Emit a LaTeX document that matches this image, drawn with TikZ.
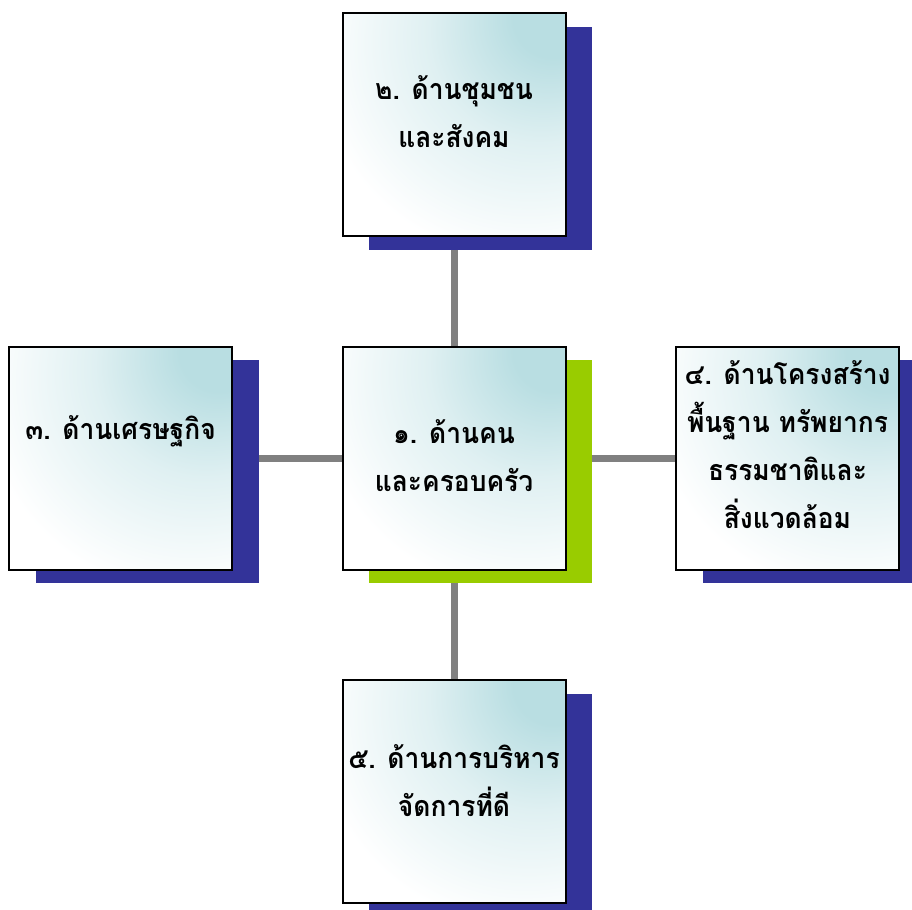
\documentclass[tikz,border=0pt]{standalone}
\usepackage{fontspec}
\newfontfamily\thaifont[Script=Thai,FakeStretch=0.92]{Loma}
\usetikzlibrary{backgrounds}
\definecolor{teal1}{HTML}{B9DEE2}
\definecolor{navyS}{HTML}{333399}
\definecolor{limeS}{HTML}{99CC00}
\pgfdeclareradialshading{boxshade}{\pgfpoint{24bp}{26bp}}{
  color(0bp)=(teal1); color(9bp)=(teal1); color(25bp)=(teal1!45!white); color(46bp)=(white); color(120bp)=(white)}
\tikzset{
  x=0.75pt,y=-0.75pt,
  boxnode/.style={draw=black,line width=1.9pt,minimum width=167pt,minimum height=167pt,inner sep=0pt,shading=boxshade,anchor=center},
  shadownode/.style={fill=#1,draw=none,minimum width=167.5pt,minimum height=167pt,inner sep=0pt,anchor=center},
  link/.style={draw=black!50,line width=4.8pt},
  lbl/.style={font=\thaifont\bfseries\fontsize{21.5pt}{36pt}\selectfont,align=center,text=black,inner sep=0pt,anchor=center}
}
\begin{document}
\begin{tikzpicture}
\useasboundingbox (0,0) rectangle (912,909);
\begin{scope}
\clip (0,0) rectangle (912,909);
\node[shadownode=navyS] (s2) at (480.5,138.5) {};
\node[shadownode=limeS] (s1) at (480.5,471.5) {};
\node[shadownode=navyS] (s3) at (147.5,471.5) {};
\node[shadownode=navyS] (s4) at (814.5,471.5) {};
\node[shadownode=navyS] (s5) at (480.5,805.5) {};
\end{scope}
\node[boxnode] (b2) at (454.5,124.5) {};
\node[boxnode] (b1) at (454.5,458.5) {};
\node[boxnode] (b3) at (120.5,458.5) {};
\node[boxnode] (b4) at (787.5,458.5) {};
\node[boxnode] (b5) at (454.5,791.5) {};
\begin{scope}[on background layer]
\draw[link] (b1.north) -- (b2.south);
\draw[link] (b1.south) -- (b5.north);
\draw[link] (b1.west) -- (b3.east);
\draw[link] (b1.east) -- (b4.west);
\end{scope}
\node[lbl] (t2) at (454,112) {๒. ด้านชุมชน\\และสังคม};
\node[lbl] (t1) at (454,456) {๑. ด้านคน\\และครอบครัว};
\node[lbl] (t3) at (120.5,431) {๓. ด้านเศรษฐกิจ};
\node[lbl] (t4) at (787.5,445) {๔. ด้านโครงสร้าง\\พื้นฐาน ทรัพยากร\\ธรรมชาติและ\\สิ่งแวดล้อม};
\node[lbl] (t5) at (454,781) {๕. ด้านการบริหาร\\จัดการที่ดี};
\end{tikzpicture}
\end{document}
